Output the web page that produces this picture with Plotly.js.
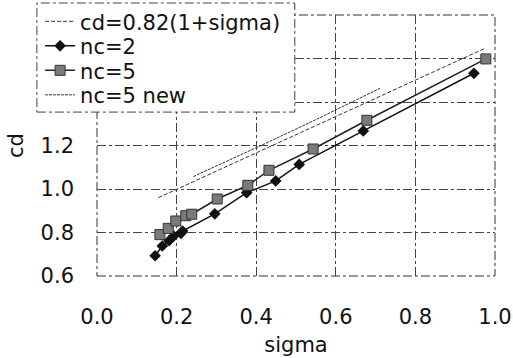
<!DOCTYPE html>
<html>
<head>
<meta charset="utf-8">
<script src="https://cdn.plot.ly/plotly-3.0.1.min.js"></script>
<style>html,body{margin:0;padding:0;background:#fff;}#chart{width:513px;height:358px;}</style>
</head>
<body>
<div id="chart"></div>
<script>
// Data
const cdLineX = [0.154, 0.975];
const cdLineY = [0.960, 1.647];

const nc2X = [0.146, 0.164, 0.181, 0.193, 0.211, 0.215, 0.296, 0.376, 0.449, 0.508, 0.669, 0.947];
const nc2Y = [0.693, 0.738, 0.762, 0.784, 0.796, 0.807, 0.886, 0.983, 1.037, 1.113, 1.267, 1.532];

const nc5X = [0.158, 0.179, 0.198, 0.223, 0.238, 0.302, 0.379, 0.432, 0.543, 0.678, 0.977];
const nc5Y = [0.790, 0.819, 0.853, 0.877, 0.884, 0.954, 1.017, 1.086, 1.184, 1.316, 1.598];

const nc5NewX = [0.242, 0.300, 0.332, 0.380, 0.425, 0.540, 0.711];
const nc5NewY = [1.057, 1.105, 1.133, 1.174, 1.211, 1.310, 1.463];

const xTickVals = [0.0, 0.2, 0.4, 0.6, 0.8, 1.0];
const xTickText = ['0.0', '0.2', '0.4', '0.6', '0.8', '1.0'];
const yTickVals = [0.6, 0.8, 1.0, 1.2, 1.4, 1.6, 1.8];
const yTickText = ['0.6', '0.8', '1.0', '1.2', '', '', ''];

const FONT = 'DejaVu Sans, Arial, sans-serif';

const traces = [
  {x: cdLineX, y: cdLineY, name: 'cd=0.82(1+sigma)', mode: 'lines',
   line: {color: '#333', width: 1, dash: '4px,2px'}},
  {x: nc2X, y: nc2Y, name: 'nc=2', mode: 'lines+markers',
   line: {color: '#111', width: 1.5},
   marker: {symbol: 'diamond', size: 9, color: '#111'}},
  {x: nc5X, y: nc5Y, name: 'nc=5', mode: 'lines+markers',
   line: {color: '#222', width: 1.5},
   marker: {symbol: 'square', size: 10, color: '#7a7a7a', line: {color: '#333', width: 1}}},
  {x: nc5NewX, y: nc5NewY, name: 'nc=5 new', mode: 'lines',
   line: {color: '#333', width: 1, dash: '3px,1px'}}
];

const gridStyle = {showgrid: true, gridcolor: '#444', gridwidth: 1, griddash: 'dashdot'};

const layout = {
  width: 513, height: 358,
  margin: {l: 97, r: 18, t: 15, b: 82, autoexpand: false},
  paper_bgcolor: '#fff', plot_bgcolor: '#fff',
  font: {family: FONT, size: 21, color: '#111'},
  showlegend: true,
  xaxis: Object.assign({
    range: [0, 1], tickvals: xTickVals, ticktext: xTickText,
    ticks: '', showline: false, zeroline: false, automargin: false,
    ticklabelstandoff: 26,
    tickfont: {family: FONT, size: 21, color: '#111'},
    title: {text: 'sigma', font: {family: FONT, size: 21, color: '#111'}, standoff: 9}
  }, gridStyle),
  yaxis: Object.assign({
    range: [0.6, 1.8], tickvals: yTickVals, ticktext: yTickText,
    ticks: '', showline: false, zeroline: false, automargin: false,
    ticklabelstandoff: 22,
    tickfont: {family: FONT, size: 21, color: '#111'},
    title: {text: 'cd', font: {family: FONT, size: 21, color: '#111'}, standoff: 11}
  }, gridStyle),
  legend: {
    x: -0.143, y: 1.053, xanchor: 'left', yanchor: 'top',
    bgcolor: 'rgba(0,0,0,0)', borderwidth: 0,
    font: {family: FONT, size: 21, color: '#111'},
    tracegroupgap: 0
  },
  shapes: [
    {type: 'rect', xref: 'paper', yref: 'paper', x0: 0, x1: 1, y0: 0, y1: 1,
     line: {color: '#333', width: 1, dash: 'dashdot'}, layer: 'above'},
    {type: 'rect', xref: 'paper', yref: 'paper', x0: -0.151, x1: 0.497, y0: 0.628, y1: 1.046,
     fillcolor: '#fff', line: {color: '#444', width: 1, dash: 'dashdot'}, layer: 'above'}
  ]
};

Plotly.newPlot('chart', traces, layout, {displayModeBar: false, staticPlot: true}).then(function (gd) {
  // tighten legend row spacing to match the reference (about 24.5 px per row)
  const items = gd.querySelectorAll('.legend .traces');
  if (!items.length) return;
  const m = /translate\(\s*([-\d.]+)[ ,]+([-\d.]+)\s*\)/.exec(items[0].getAttribute('transform') || '');
  if (!m) return;
  const x0 = parseFloat(m[1]), y0 = parseFloat(m[2]);
  items.forEach(function (el, i) {
    el.setAttribute('transform', 'translate(' + x0 + ',' + (y0 + i * 24.5) + ')');
  });
});
</script>
</body>
</html>
